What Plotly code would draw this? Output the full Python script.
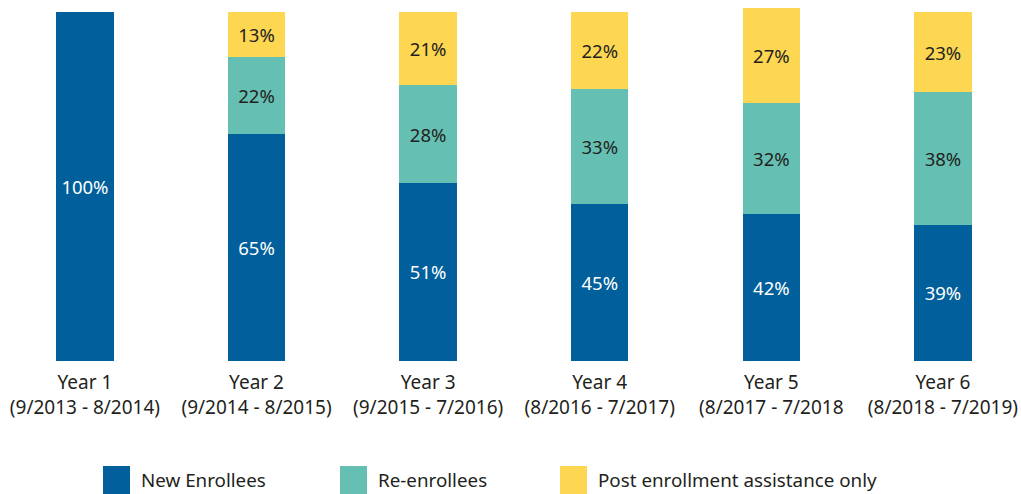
import plotly.graph_objects as go

categories = ["Year 1<br>(9/2013 - 8/2014)", "Year 2<br>(9/2014 - 8/2015)",
              "Year 3<br>(9/2015 - 7/2016)", "Year 4<br>(8/2016 - 7/2017)",
              "Year 5<br>(8/2017 - 7/2018", "Year 6<br>(8/2018 - 7/2019)"]
new_enrollees = [100, 65, 51, 45, 42, 39]
re_enrollees = [0, 22, 28, 33, 32, 38]
post_assist = [0, 13, 21, 22, 27, 23]
series_names = ["New Enrollees", "Re-enrollees", "Post enrollment assistance only"]
colors = ["#015F9B", "#66BFB3", "#FDD652"]
text_colors = ["#FFFFFF", "#231F20", "#231F20"]

FONT = "Noto Sans"
x = list(range(len(categories)))

fig = go.Figure()
for vals, name, col, tcol in zip([new_enrollees, re_enrollees, post_assist], series_names, colors, text_colors):
    fig.add_trace(go.Bar(
        x=x, y=vals, name=name, marker=dict(color=col, line=dict(width=0)),
        width=0.335,
        text=[f"{v}%" if v > 0 else "" for v in vals],
        textposition="inside", insidetextanchor="middle",
        textfont=dict(family=FONT, size=18.5, color=tcol),
        textangle=0, showlegend=False,
    ))

# legend drawn manually
leg_x = [103, 340, 560]
W, H = 1021, 494
plot_h = 361
for lx, name, col in zip(leg_x, series_names, colors):
    fig.add_shape(type="rect", xref="paper", yref="paper",
                  x0=lx / W, x1=(lx + 27) / W,
                  y0=(plot_h - 494) / plot_h, y1=(plot_h - 466) / plot_h,
                  fillcolor=col, line=dict(width=0), layer="above")
    fig.add_annotation(xref="paper", yref="paper", x=(lx + 36) / W, y=(plot_h - 480) / plot_h,
                       text=name, showarrow=False, xanchor="left", yanchor="middle",
                       font=dict(family=FONT, size=18.8, color="#231F20"))

fig.update_layout(
    barmode="stack",
    width=W, height=H,
    margin=dict(l=0, r=0, t=0, b=133),
    plot_bgcolor="white", paper_bgcolor="white",
    uniformtext=dict(mode=False),
    xaxis=dict(tickmode="array", tickvals=x, ticktext=categories,
               range=[-0.495, 5.455], showgrid=False, zeroline=False,
               showline=False, ticks="", ticklabelstandoff=8,
               tickfont=dict(family=FONT, size=19, color="#231F20")),
    yaxis=dict(range=[0, 103.4], visible=False),
)

fig.write_html("out.html")
